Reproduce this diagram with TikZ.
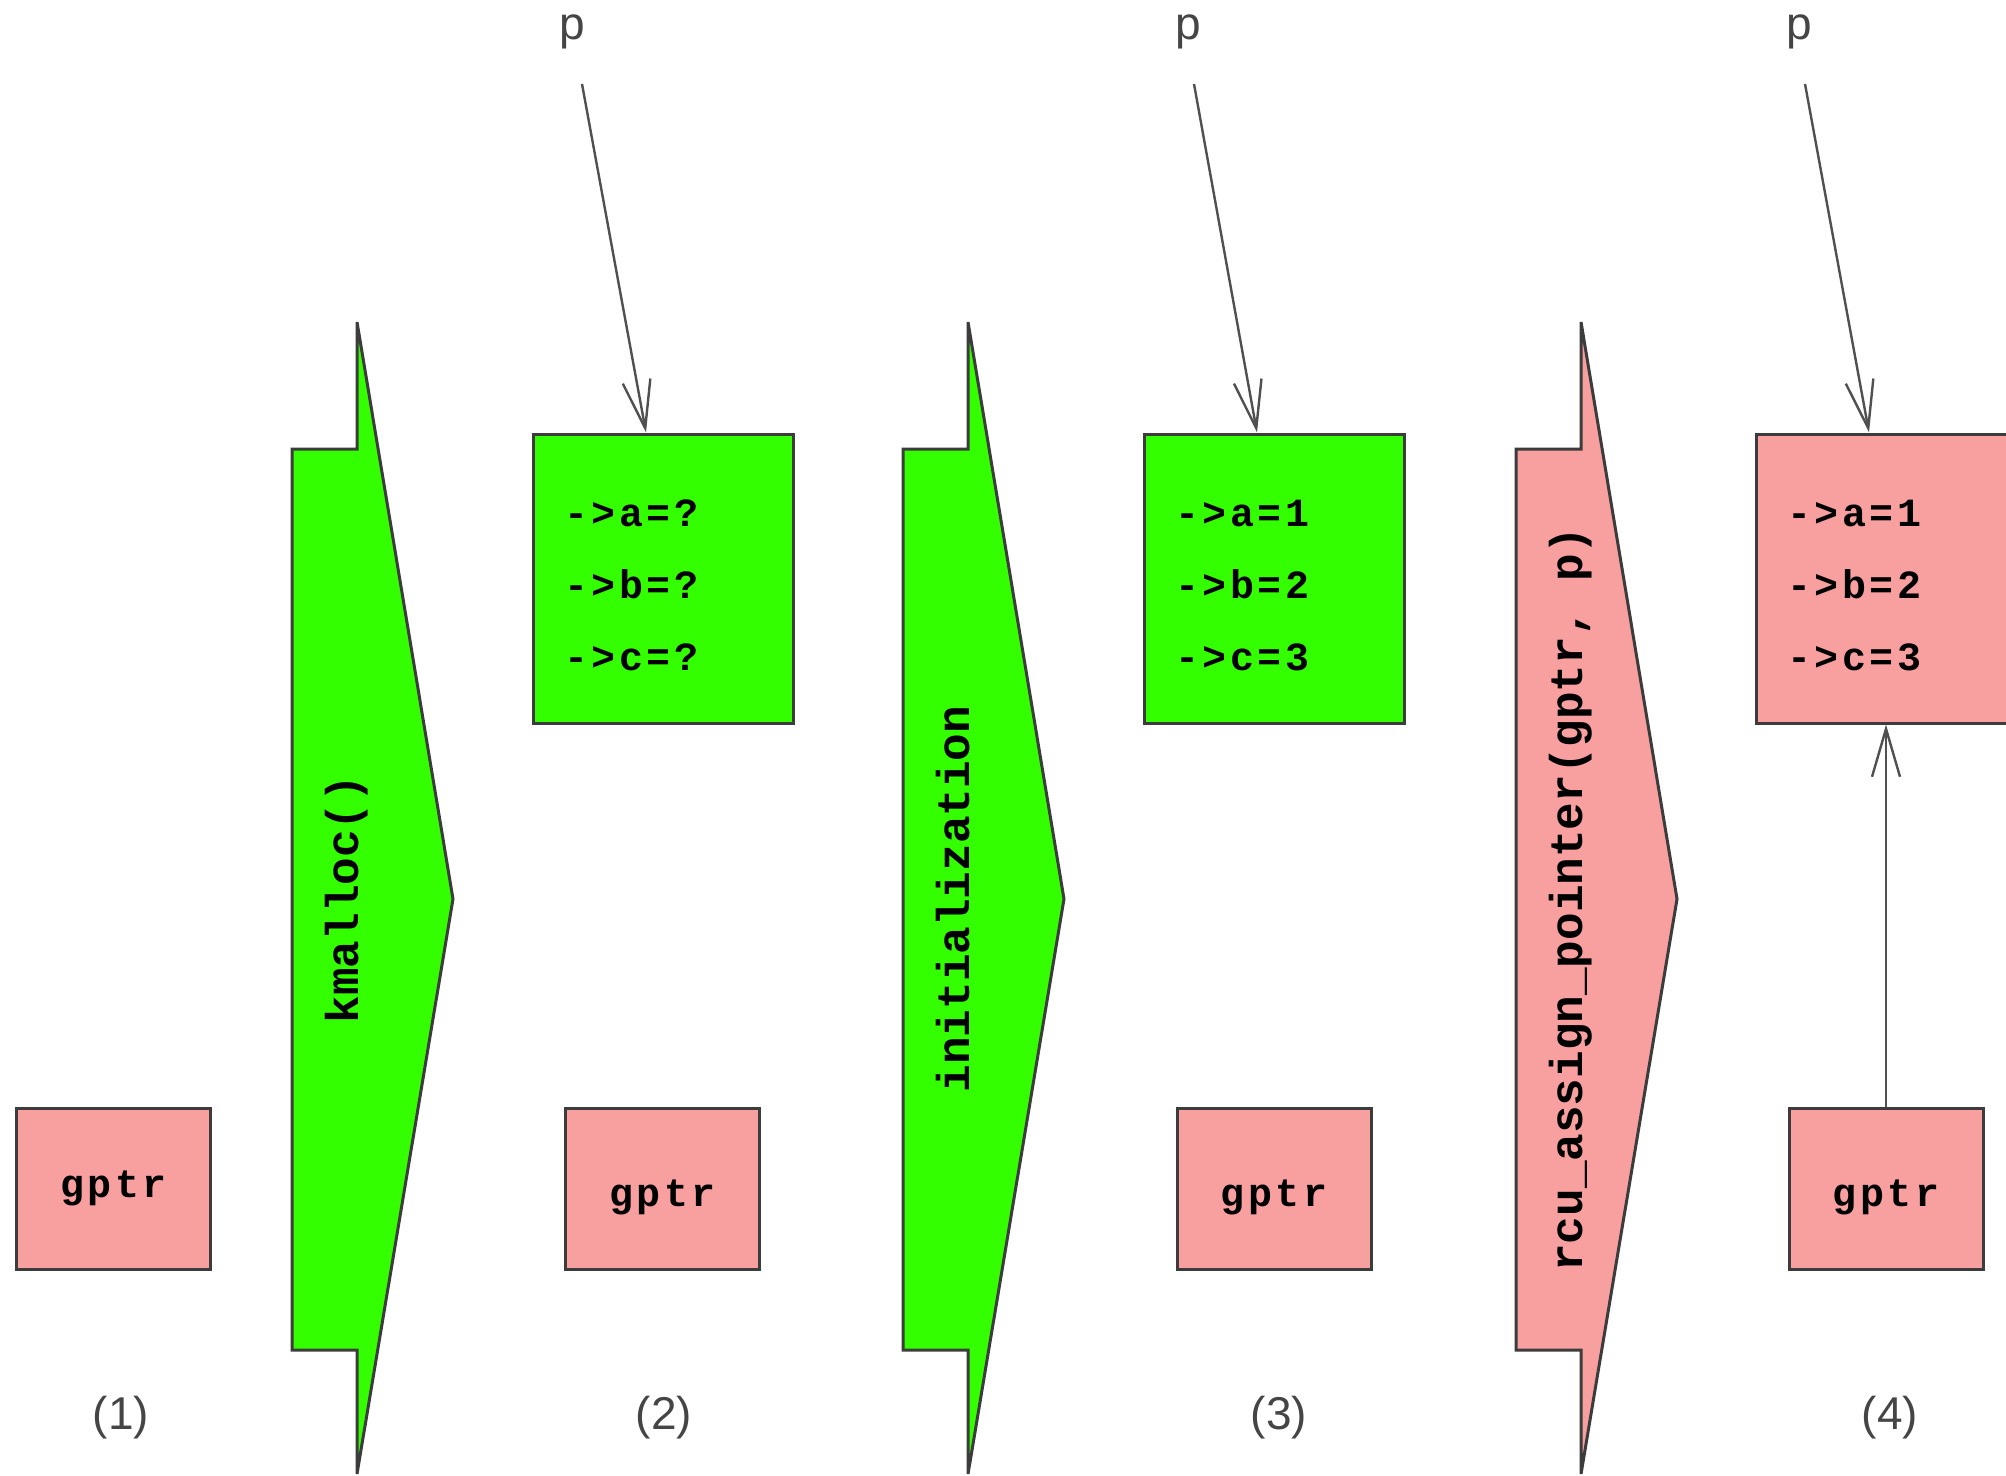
\documentclass[tikz,border=0pt]{standalone}
\usepackage{fontspec}
\setmainfont{Liberation Sans}
\newfontfamily\codefont{Liberation Mono}[LetterSpace=9]
\newfontfamily\rotfont{Liberation Mono}
\usetikzlibrary{arrows.meta,calc}

\definecolor{memgreen}{HTML}{33FF00}
\definecolor{ptrpink}{HTML}{F8A09F}
\definecolor{edgegray}{HTML}{3C3C3C}
\definecolor{wiregray}{HTML}{505050}
\definecolor{taggray}{HTML}{454545}

\tikzset{
  structbox/.style={draw=edgegray, line width=1.5pt, minimum width=130pt,
    minimum height=144.5pt, inner xsep=15.5pt, text width=99pt, align=left,
    font=\codefont\bfseries\fontsize{20}{36}\selectfont},
  gptrbox/.style={draw=edgegray, fill=ptrpink, line width=1.5pt,
    minimum width=97pt, minimum height=80.5pt, inner sep=0pt,
    font=\codefont\bfseries\fontsize{20}{24}\selectfont},
  stagearrow/.style={draw=edgegray, line width=1.5pt, line join=miter},
  stagetext/.style={rotate=90, anchor=base, inner sep=0pt,
    font=\rotfont\bfseries\fontsize{23}{28}\selectfont},
  steptag/.style={inner sep=0pt, text=taggray, font=\fontsize{23}{28}\selectfont},
  ptrtag/.style={inner sep=0pt, anchor=base, text=taggray, font=\fontsize{23}{28}\selectfont},
  ptrline/.style={draw=wiregray, line width=1.2pt,
    -{Straight Barb[length=24pt,width=14pt]}}
}
% field lines of a structure; the strut sets them a little below the middle of the box
\newcommand\fieldlines[3]{\rule{0pt}{20pt}#1\\#2\\#3}
\newcommand\gptrlow{\raisebox{-4.5pt}[\height][\depth]{gptr}}

\begin{document}
\begin{tikzpicture}[x=0.5pt,y=-0.5pt]
\useasboundingbox (0,0) rectangle (2006,1476);

% transition arrows between the stages
\filldraw[stagearrow, fill=memgreen]
  (292,449) -- (357,449) -- (357,322) -- (453,899) -- (357,1474) -- (357,1350) -- (292,1350) -- cycle;
\filldraw[stagearrow, fill=memgreen]
  (903,449) -- (968,449) -- (968,322) -- (1064,899) -- (968,1474) -- (968,1350) -- (903,1350) -- cycle;
\filldraw[stagearrow, fill=ptrpink]
  (1516,449) -- (1581,449) -- (1581,322) -- (1677,899) -- (1581,1474) -- (1581,1350) -- (1516,1350) -- cycle;

\node[stagetext] (t1) at (358,899) {kmalloc()};
\node[stagetext] (t2) at (969,899) {initialization};
\node[stagetext] (t3) at (1582,899) {rcu\_assign\_pointer(gptr, p)};

% structures
\node[structbox, fill=memgreen] (b2) at (663,578.5) {\fieldlines{->a=?}{->b=?}{->c=?}};
\node[structbox, fill=memgreen] (b3) at (1274,578.5) {\fieldlines{->a=1}{->b=2}{->c=3}};
\node[structbox, fill=ptrpink] (b4) at (1886,578.5) {\fieldlines{->a=1}{->b=2}{->c=3}};

% global pointers
\node[gptrbox] (g1) at (113.5,1188.5) {gptr};
\node[gptrbox] (g2) at (662.5,1188.5) {\gptrlow};
\node[gptrbox] (g3) at (1274,1188.5) {\gptrlow};
\node[gptrbox] (g4) at (1886,1188.5) {\gptrlow};

% stage numbers
\node[steptag] (s1) at (121,1418) {(1)};
\node[steptag] (s2) at (664,1418) {(2)};
\node[steptag] (s3) at (1279,1418) {(3)};
\node[steptag] (s4) at (1890,1418) {(4)};

% local pointer p
\node[ptrtag] (p2) at (572,40) {p};
\node[ptrtag] (p3) at (1188,40) {p};
\node[ptrtag] (p4) at (1799,40) {p};
\coordinate (p2s) at (582,84);
\coordinate (p3s) at (1194,84);
\coordinate (p4s) at (1805,84);

\draw[ptrline] (p2s) -- ($(b2.north)+(-17,0)$);
\draw[ptrline] (p3s) -- ($(b3.north)+(-17,0)$);
\draw[ptrline] (p4s) -- ($(b4.north)+(-17,0)$);
\draw[ptrline] (g4.north) -- (b4.south);
\end{tikzpicture}
\end{document}
